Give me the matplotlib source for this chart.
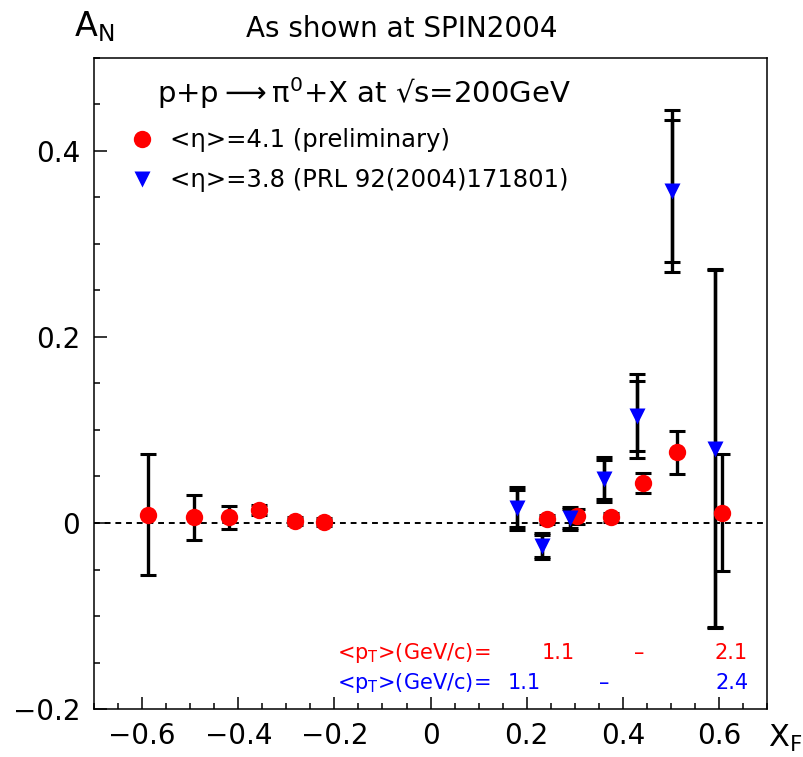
# A_N vs x_F, SPIN2004 style plot

import matplotlib
matplotlib.use('Agg')
import matplotlib.pyplot as plt
from matplotlib.ticker import MultipleLocator

plt.rcParams['font.family'] = ['DejaVu Sans']
plt.rcParams['mathtext.default'] = 'regular'

# <eta>=4.1 preliminary (red)
red_x = [-0.587, -0.492, -0.419, -0.356, -0.283, -0.222, 0.242, 0.304, 0.375, 0.441, 0.512, 0.606]
red_y = [0.009, 0.006, 0.006, 0.014, 0.002, 0.001, 0.004, 0.007, 0.006, 0.043, 0.076, 0.011]
red_err = [0.065, 0.0245, 0.012, 0.005, 0.004, 0.004, 0.005, 0.008, 0.005, 0.011, 0.023, 0.063]

# <eta>=3.8 PRL 92 (blue)
blue_x = [0.180, 0.231, 0.290, 0.360, 0.429, 0.502, 0.592]
blue_y = [0.016, -0.025, 0.005, 0.047, 0.115, 0.357, 0.080]
blue_err_tot = [0.023, 0.014, 0.012, 0.024, 0.045, 0.087, 0.193]
blue_err_stat = [0.020, 0.012, 0.010, 0.021, 0.038, 0.076, 0.192]

fig = plt.figure(figsize=(8.04, 7.57), dpi=100)
ax = fig.add_axes([0.117, 0.0634, 0.837, 0.86])

ax.axhline(0, color='black', lw=1.4, ls=(0, (3, 2.5)), zorder=1)

eb = dict(fmt='none', ecolor='black', elinewidth=2.4, capsize=6, capthick=2.2, zorder=2)
ax.errorbar(red_x, red_y, yerr=red_err, **eb)
ax.errorbar(blue_x, blue_y, yerr=blue_err_tot, **eb)
ax.errorbar(blue_x, blue_y, yerr=blue_err_stat, **eb)

ax.plot(red_x, red_y, 'o', color='red', ms=12.5, mec='none', zorder=3)
ax.plot(blue_x, blue_y, 'v', color='blue', ms=12, mec='none', zorder=3)

ax.set_xlim(-0.7, 0.7)
ax.set_ylim(-0.2, 0.5)
ax.xaxis.set_minor_locator(MultipleLocator(0.05))
ax.yaxis.set_minor_locator(MultipleLocator(0.05))
ax.set_xticks([-0.6, -0.4, -0.2, 0, 0.2, 0.4, 0.6])
ax.set_xticklabels(['\u22120.6', '\u22120.4', '\u22120.2', '0', '0.2', '0.4', '0.6'])
ax.set_yticks([-0.2, 0, 0.2, 0.4])
ax.set_yticklabels(['\u22120.2', '0', '0.2', '0.4'])
ax.tick_params(which='both', direction='in', top=False, right=False, labelsize=20, color='black')
ax.tick_params(which='major', length=9, width=1.1)
ax.tick_params(which='minor', length=4.5, width=1.1)
ax.tick_params(axis='y', pad=10)
ax.tick_params(axis='x', pad=9)
for s in ax.spines.values():
    s.set_linewidth(1.1)

# legend-like text block
ax.plot([-0.6], [0.413], 'o', color='red', ms=12.5, mec='none', clip_on=False)
ax.plot([-0.6], [0.370], 'v', color='blue', ms=11, mec='none', clip_on=False)
fig.text(0.195, 0.877, r'p+p$\longrightarrow$π$^0$+X at √s=200GeV', fontsize=21, va='center')
fig.text(0.211, 0.815, '<η>=4.1 (preliminary)', fontsize=17.5, va='center')
fig.text(0.211, 0.762, '<η>=3.8 (PRL 92(2004)171801)', fontsize=17.5, va='center')

# mean pT annotations
fig.text(0.419, 0.137, r'<p$_T$>(GeV/c)=', fontsize=15, color='red', va='center')
fig.text(0.694, 0.137, '1.1', fontsize=15, color='red', va='center', ha='center')
fig.text(0.795, 0.137, '\u2013', fontsize=15, color='red', va='center', ha='center')
fig.text(0.909, 0.137, '2.1', fontsize=15, color='red', va='center', ha='center')
fig.text(0.419, 0.098, r'<p$_T$>(GeV/c)=', fontsize=15, color='blue', va='center')
fig.text(0.652, 0.098, '1.1', fontsize=15, color='blue', va='center', ha='center')
fig.text(0.752, 0.098, '\u2013', fontsize=15, color='blue', va='center', ha='center')
fig.text(0.910, 0.098, '2.4', fontsize=15, color='blue', va='center', ha='center')

fig.text(0.5, 0.962, 'As shown at SPIN2004', fontsize=20, ha='center', va='center')
fig.text(0.092, 0.965, r'A$_N$', fontsize=24, ha='left', va='center')
fig.text(0.955, 0.024, r'X$_F$', fontsize=22, ha='left', va='center')

fig.savefig('out.png', dpi=100)
